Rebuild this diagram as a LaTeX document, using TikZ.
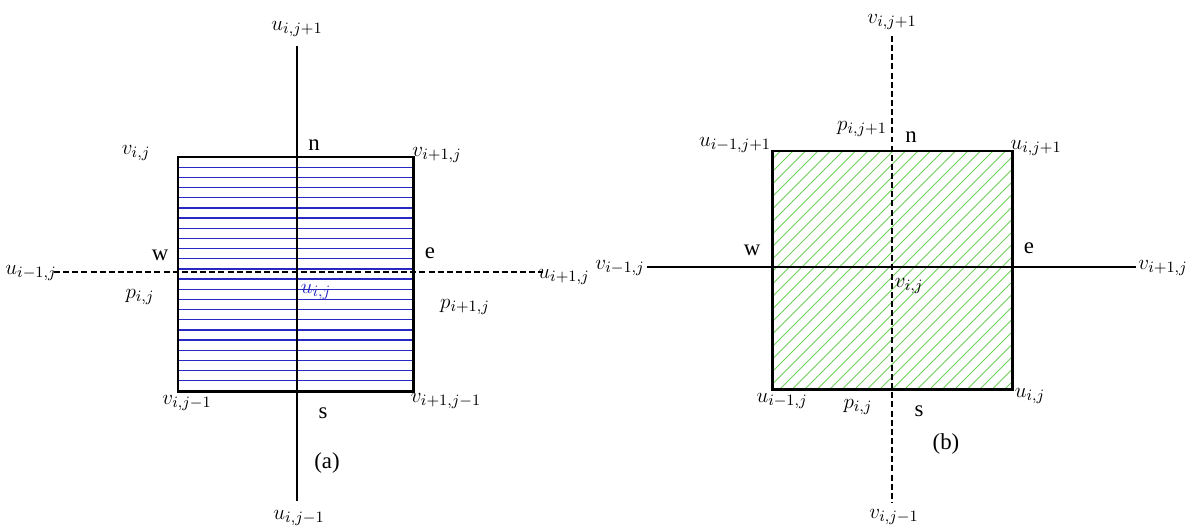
\documentclass[tikz,border=0pt]{standalone}
\usepackage{fontspec}
\setmainfont{Liberation Serif}
\usepackage{tikz}
\usetikzlibrary{calc}
\definecolor{cBlue}{RGB}{40,40,195}
\definecolor{cGreen}{RGB}{110,210,90}
\tikzset{
	cellbox/.style={draw=black, line width=1.7pt},
	axisline/.style={draw=black, line width=0.6pt},
	axisdash/.style={draw=black, line width=0.6pt, dash pattern=on 3.4pt off 1.8pt},
	hatchu/.style={draw=cBlue, line width=0.75pt},
	hatchv/.style={draw=cGreen, line width=0.55pt},
	% label helper
	lbl/.style={inner sep=0pt, font=\fontsize{13}{15}\selectfont},
}

\begin{document}
\begin{tikzpicture}[x=0.02cm, y=0.02cm]
	\useasboundingbox (0,0) rectangle (1189,529);
	% (a) u-cell
	\coordinate (aT) at (297,483);
	\coordinate (aB) at (297,28);
	\coordinate (aL) at (54,257);
	\coordinate (aR) at (543,257);
	\foreach \k in {1,...,22}
		\draw[hatchu] (178,{138+\k*234/23}) -- (413,{138+\k*234/23});
	\draw[axisdash] (aL) -- (aR);
	\draw[axisline] (aT) -- (aB);
	\draw[cellbox] (178,138) rectangle (413,372);
	\foreach \nm/\x/\y/\txt in {
		aN/297/500/{$u_{i,j+1}$}, aS/299/11/{$u_{i,j-1}$},
		aW/31/256/{$u_{i-1,j}$}, aE/564/252/{$u_{i+1,j}$},
		aTL/136/376/{$v_{i,j}$}, aTR/437/374/{$v_{i+1,j}$},
		aBL/187/126/{$v_{i,j-1}$}, aBR/446/128/{$v_{i+1,j-1}$},
		aPl/140/232/{$p_{i,j}$}, aPr/465/222/{$p_{i+1,j}$},
		an/314/384/n, as/323/116/s, aw/160/274/w, ae/430/276/e,
		acap/327/66/(a)} {
		\node[lbl] (\nm) at (\x,\y) {\txt};
	}
	\node[lbl, text=cBlue] (aC) at (316,237) {$u_{i,j}$};

	% (b) v-cell
	\coordinate (bT) at (892,493);
	\coordinate (bB) at (892,26);
	\coordinate (bL) at (647,262);
	\coordinate (bR) at (1136,262);
	\begin{scope}
		\clip (772,140) rectangle (1012,378);
		\foreach \k in {0,12.5,...,500}
			\draw[hatchv] (530+\k,140) -- ++(260,260);
	\end{scope}
	\draw[axisline] (bL) -- (bR);
	\draw[axisdash] (bT) -- (bB);
	\draw[cellbox] (772,140) rectangle (1012,378);
	\foreach \nm/\x/\y/\txt in {
		bN/892/507/{$v_{i,j+1}$}, bS/894/12/{$v_{i,j-1}$},
		bW/620/261/{$v_{i-1,j}$}, bE/1163/261/{$v_{i+1,j}$},
		bTL/735/384/{$u_{i-1,j+1}$}, bTR/1036/381/{$u_{i,j+1}$},
		bBL/782/128/{$u_{i-1,j}$}, bBR/1030/133/{$u_{i,j}$},
		bPt/862/400/{$p_{i,j+1}$}, bPb/858/122/{$p_{i,j}$},
		bC/909/243/{$v_{i,j}$},
		bn/911/392/n, bs/919/118/s, bw/752/279/w, be/1029/281/e,
		bcap/946/85/(b)} {
		\node[lbl] (\nm) at (\x,\y) {\txt};
	}
\end{tikzpicture}
\end{document}
